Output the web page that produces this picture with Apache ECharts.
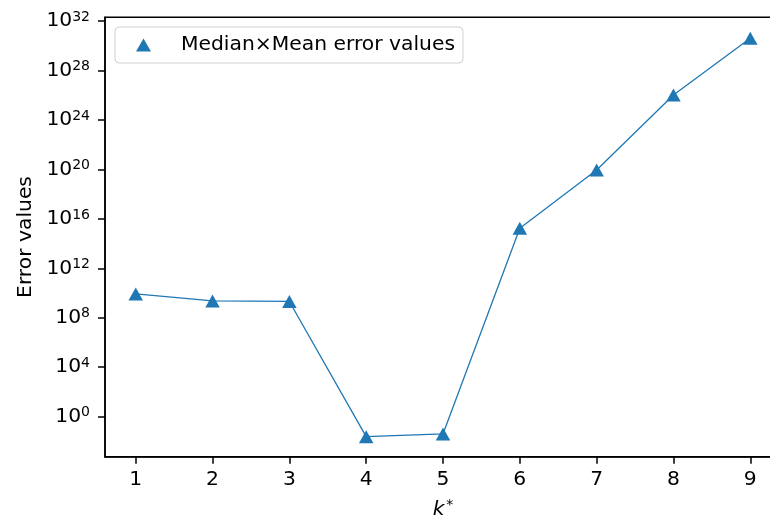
<!DOCTYPE html>
<html>
<head>
<meta charset="utf-8">
<script src="https://cdn.jsdelivr.net/npm/echarts@6/dist/echarts.min.js"></script>
<style>
  html, body { margin: 0; padding: 0; background: #ffffff; }
  #chart { width: 770px; height: 520px; }
</style>
</head>
<body>
<div id="chart"></div>
<script>
// k* values along the x axis
const kValues = [1, 2, 3, 4, 5, 6, 7, 8, 9];
// decimal exponents of the Median×Mean error at each k*
const errorExponents = [9.93, 9.36, 9.32, -1.62, -1.40, 15.24, 19.96, 26.03, 30.61];
// labelled decades on the log axis
const yTickExponents = [0, 4, 8, 12, 16, 20, 24, 28, 32];
const seriesName = 'Median×Mean error values';

const errorValues = errorExponents.map(e => Math.pow(10, e));
const yTicks = yTickExponents.map(e => Math.pow(10, e));

const FONT = 'DejaVu Sans';
const FS = 20.3;      // main text size
const FS_SUP = 14;    // superscript size
const BLUE = '#1f77b4';
const AX = { color: '#000000', width: 1.5 };

const chart = echarts.init(document.getElementById('chart'), null, { renderer: 'canvas' });

chart.setOption({
  backgroundColor: '#ffffff',
  animation: false,
  textStyle: { fontFamily: FONT },
  grid: {
    left: 105, right: -11, top: 17.3, bottom: 63.3,
    outerBoundsMode: 'none',
    containLabel: false,
    show: true, borderColor: '#000000', borderWidth: 1.5, backgroundColor: 'transparent'
  },
  legend: {
    left: 115, top: 27,
    padding: [8, 8, 8, 21],
    backgroundColor: 'rgba(255,255,255,0.8)',
    borderColor: '#d0d0d0', borderWidth: 1, borderRadius: 4,
    itemWidth: 15, itemHeight: 13,
    icon: 'triangle',
    textStyle: { fontFamily: FONT, fontSize: FS, color: '#000000', padding: [0, 0, 0, 25] },
    data: [{ name: seriesName, itemStyle: { color: BLUE } }]
  },
  xAxis: {
    type: 'value', min: 0.6, max: 9.4,
    name: '{k|k}{s|*}', nameLocation: 'middle', nameGap: 42,
    nameTextStyle: {
      color: '#000000',
      rich: {
        k: { fontFamily: FONT, fontSize: FS, fontStyle: 'italic', color: '#000000', lineHeight: 22 },
        s: { fontFamily: FONT, fontSize: FS_SUP, color: '#000000', verticalAlign: 'top', lineHeight: 14, padding: [0, 0, 0, 2] }
      }
    },
    axisLine: { show: true, onZero: false, lineStyle: AX },
    axisTick: { show: true, length: 7, lineStyle: AX, customValues: kValues },
    axisLabel: { show: true, margin: 13, fontFamily: FONT, fontSize: FS, color: '#000000', customValues: kValues },
    splitLine: { show: false }
  },
  yAxis: {
    type: 'log', logBase: 10,
    min: Math.pow(10, -3.24), max: Math.pow(10, 32.31),
    name: 'Error values', nameLocation: 'middle', nameGap: 63, nameRotate: 90,
    nameTextStyle: { fontFamily: FONT, fontSize: FS, color: '#000000' },
    axisLine: { show: true, onZero: false, lineStyle: AX },
    axisTick: { show: true, length: 7, lineStyle: AX, customValues: yTicks },
    axisLabel: {
      show: true, margin: 15, color: '#000000',
      customValues: yTicks,
      formatter: function (v) {
        const e = Math.round(Math.log10(v));
        return '{b|10}{s|' + e + '}';
      },
      rich: {
        b: { fontFamily: FONT, fontSize: FS, color: '#000000', lineHeight: 22 },
        s: { fontFamily: FONT, fontSize: FS_SUP, color: '#000000', verticalAlign: 'top', lineHeight: 14 }
      }
    },
    splitLine: { show: false }
  },
  series: [{
    name: seriesName,
    type: 'line',
    data: kValues.map((k, i) => [k, errorValues[i]]),
    symbol: 'triangle',
    symbolSize: [14.5, 13],
    showAllSymbol: true,
    lineStyle: { color: BLUE, width: 1.3 },
    itemStyle: { color: BLUE },
    z: 3
  }]
});
</script>
</body>
</html>
